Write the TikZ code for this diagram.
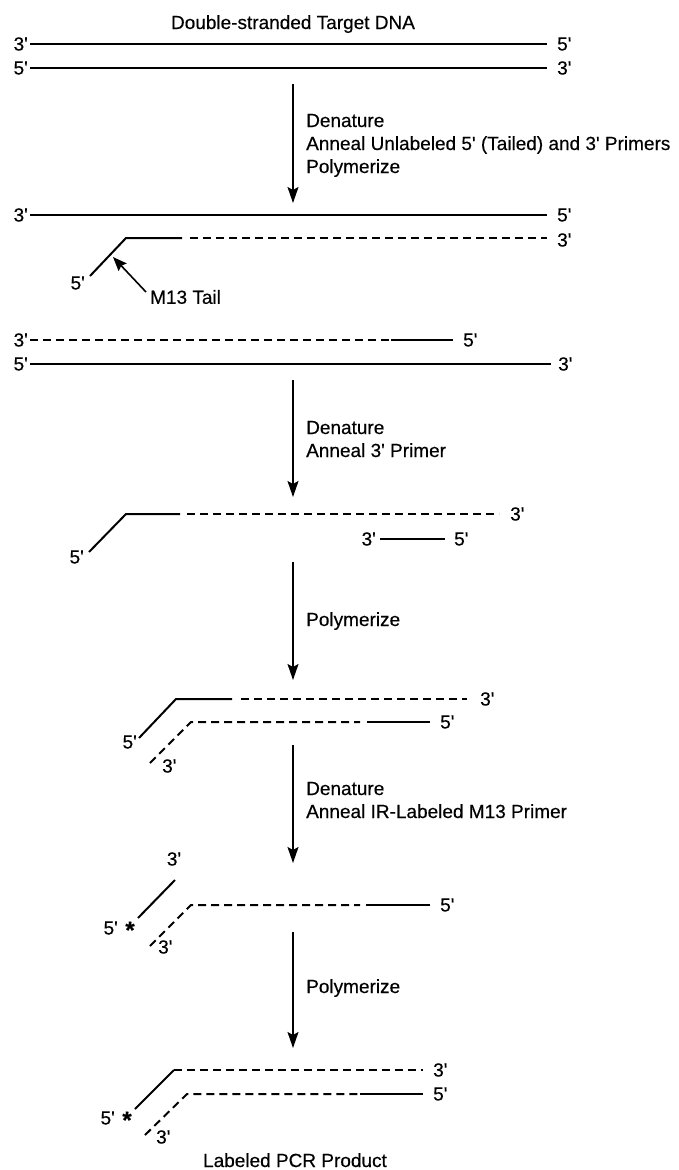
\documentclass[tikz,border=0pt]{standalone}
\usepackage{fontspec}
\setmainfont{Liberation Sans}[Ligatures=TeXOff, FakeBold=0.4]
\usetikzlibrary{arrows.meta}
\begin{document}
\begin{tikzpicture}[x=1pt,y=-1pt,
  strand/.style={line width=2pt},
  dstrand/.style={line width=2pt, dash pattern=on 8pt off 5pt},
  lbl/.style={inner sep=0pt, font=\fontsize{19}{23}\selectfont},
  txt/.style={lbl, anchor=base west},
  star/.style={inner sep=0pt, font=\fontsize{24}{24}\selectfont\bfseries},
  flow/.style={line width=1.6pt, -{Stealth[length=16pt,width=11pt,inset=3pt]}},
  tailarrow/.style={line width=1.6pt, -{Stealth[length=14pt,width=11pt,inset=2pt]}}]
\useasboundingbox (0,0) rectangle (679,1170);

% ---------- Block 1: target DNA ----------
\node[lbl, anchor=base] (title) at (293,29) {Double-stranded Target DNA};
\node[lbl, anchor=east] (b1l3) at (28,44) {3'};
\node[lbl, anchor=west] (b1r5) at (557,44) {5'};
\coordinate (b1a) at (30,44); \coordinate (b1b) at (547,44);
\draw[strand] (b1a) -- (b1b);
\node[lbl, anchor=east] (b1l5) at (28,68) {5'};
\node[lbl, anchor=west] (b1r3) at (557,68) {3'};
\coordinate (b1c) at (30,68); \coordinate (b1d) at (547,68);
\draw[strand] (b1c) -- (b1d);

% ---------- Arrow 1 ----------
\coordinate (ar1s) at (293,84); \coordinate (ar1e) at (293,203);
\draw[flow] (ar1s) -- (ar1e);
\node[txt] (t1a) at (306,127) {Denature};
\node[txt] (t1b) at (306,150) {Anneal Unlabeled 5' (Tailed) and 3' Primers};
\node[txt] (t1c) at (306,173) {Polymerize};

% ---------- Block 2 ----------
\node[lbl, anchor=east] (b2l3) at (28,215) {3'};
\node[lbl, anchor=west] (b2r5) at (557,215) {5'};
\coordinate (b2a) at (30,215); \coordinate (b2b) at (547,215);
\draw[strand] (b2a) -- (b2b);
\coordinate (b2d0) at (90,276); \coordinate (b2d1) at (126,238);
\coordinate (b2d2) at (182,238); \coordinate (b2d3) at (190,238);
\coordinate (b2d4) at (547,238);
\draw[strand] (b2d0) -- (b2d1) -- (b2d2);
\draw[dstrand] (b2d3) -- (b2d4);
\node[lbl, anchor=west] (b2r3) at (557,240) {3'};
\node[lbl, anchor=east] (b2l5) at (85,283) {5'};
\node[lbl, anchor=west] (m13) at (150,297) {M13 Tail};
\coordinate (m13tip) at (113,257); \coordinate (m13tail) at (146,292);
\draw[tailarrow] (m13tail) -- (m13tip);

% ---------- Block 3 ----------
\node[lbl, anchor=east] (b3l3) at (28,340) {3'};
\coordinate (b3a) at (30,340); \coordinate (b3b) at (391,340); \coordinate (b3c) at (453,340);
\draw[dstrand] (b3a) -- (b3b);
\draw[strand] (b3b) -- (b3c);
\node[lbl, anchor=west] (b3r5) at (463,340) {5'};
\node[lbl, anchor=east] (b3l5) at (28,364) {5'};
\coordinate (b3d) at (30,364); \coordinate (b3e) at (551,364);
\draw[strand] (b3d) -- (b3e);
\node[lbl, anchor=west] (b3r3) at (558,364) {3'};

% ---------- Arrow 2 ----------
\coordinate (ar2s) at (293,380); \coordinate (ar2e) at (293,497);
\draw[flow] (ar2s) -- (ar2e);
\node[txt] (t2a) at (306,434) {Denature};
\node[txt] (t2b) at (306,457) {Anneal 3' Primer};

% ---------- Block 4 ----------
\coordinate (b4d0) at (89,552); \coordinate (b4d1) at (126,514);
\coordinate (b4d2) at (180,514); \coordinate (b4d3) at (187,514);
\coordinate (b4d4) at (499,514);
\draw[strand] (b4d0) -- (b4d1) -- (b4d2);
\draw[dstrand] (b4d3) -- (b4d4);
\node[lbl, anchor=west] (b4r3) at (510,514) {3'};
\node[lbl, anchor=east] (b4l5) at (84,557) {5'};
\node[lbl, anchor=east] (b4p3) at (376,539) {3'};
\coordinate (b4pa) at (380,539); \coordinate (b4pb) at (445,539);
\draw[strand] (b4pa) -- (b4pb);
\node[lbl, anchor=west] (b4p5) at (454,539) {5'};

% ---------- Arrow 3 ----------
\coordinate (ar3s) at (293,562); \coordinate (ar3e) at (293,680);
\draw[flow] (ar3s) -- (ar3e);
\node[txt] (t3a) at (306,626) {Polymerize};

% ---------- Block 5 ----------
\coordinate (b5u0) at (139,738); \coordinate (b5u1) at (176,699);
\coordinate (b5u2) at (232,699); \coordinate (b5u3) at (241,699);
\coordinate (b5u4) at (467,699);
\draw[strand] (b5u0) -- (b5u1) -- (b5u2);
\draw[dstrand] (b5u3) -- (b5u4);
\node[lbl, anchor=west] (b5r3) at (480,699) {3'};
\coordinate (b5l0) at (150,763); \coordinate (b5l1) at (191,722);
\coordinate (b5l2) at (360,722); \coordinate (b5l3) at (367,722);
\coordinate (b5l4) at (430,722);
\draw[dstrand] (b5l0) -- (b5l1) -- (b5l2);
\draw[strand] (b5l3) -- (b5l4);
\node[lbl, anchor=west] (b5r5) at (440,722) {5'};
\node[lbl, anchor=east] (b5l5) at (137,742) {5'};
\node[lbl, anchor=west] (b5lb3) at (162,766) {3'};

% ---------- Arrow 4 ----------
\coordinate (ar4s) at (293,745); \coordinate (ar4e) at (293,863);
\draw[flow] (ar4s) -- (ar4e);
\node[txt] (t4a) at (306,795) {Denature};
\node[txt] (t4b) at (306,818) {Anneal IR-Labeled M13 Primer};

% ---------- Block 6 ----------
\node[lbl] (b6t3) at (174,859) {3'};
\coordinate (b6p0) at (175,880); \coordinate (b6p1) at (138,918);
\draw[strand] (b6p0) -- (b6p1);
\node[lbl, anchor=east] (b6l5) at (118,928) {5'};
\node[star] (b6star) at (130,930) {*};
\coordinate (b6l0) at (150,946); \coordinate (b6l1) at (191,905);
\coordinate (b6l2) at (360,905); \coordinate (b6l3) at (366,905);
\coordinate (b6l4) at (430,905);
\draw[dstrand] (b6l0) -- (b6l1) -- (b6l2);
\draw[strand] (b6l3) -- (b6l4);
\node[lbl, anchor=west] (b6r5) at (440,905) {5'};
\node[lbl, anchor=west] (b6b3) at (158,947) {3'};

% ---------- Arrow 5 ----------
\coordinate (ar5s) at (293,932); \coordinate (ar5e) at (293,1048);
\draw[flow] (ar5s) -- (ar5e);
\node[txt] (t5a) at (306,993) {Polymerize};

% ---------- Block 7 ----------
\coordinate (b7u0) at (135,1109); \coordinate (b7u1) at (174,1070);
\coordinate (b7u2) at (423,1070);
\draw[strand] (b7u0) -- (b7u1);
\draw[dstrand] (b7u1) -- (b7u2);
\node[lbl, anchor=west] (b7r3) at (433,1070) {3'};
\coordinate (b7l0) at (145,1135); \coordinate (b7l1) at (187,1094);
\coordinate (b7l2) at (360,1094); \coordinate (b7l3) at (423,1094);
\draw[dstrand] (b7l0) -- (b7l1) -- (b7l2);
\draw[strand] (b7l2) -- (b7l3);
\node[lbl, anchor=west] (b7r5) at (433,1094) {5'};
\node[lbl, anchor=east] (b7l5) at (115,1118) {5'};
\node[star] (b7star) at (127,1120) {*};
\node[lbl, anchor=west] (b7b3) at (156,1137) {3'};
\node[lbl, anchor=base] (final) at (295,1167) {Labeled PCR Product};
\end{tikzpicture}
\end{document}
